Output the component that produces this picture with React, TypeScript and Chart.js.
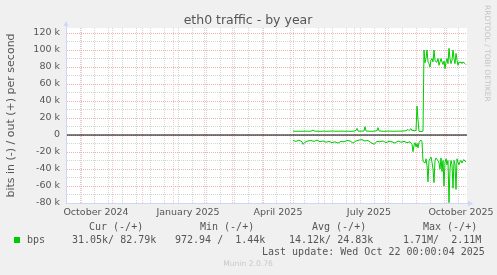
import React, { useEffect, useRef } from 'react';
import { Chart, registerables } from 'chart.js';

Chart.register(...registerables);

// ---------- texts ----------
const TITLE = 'eth0 traffic - by year';
const Y_TITLE = 'bits in (-) / out (+) per second';
const WATERMARK = 'RRDTOOL / TOBI OETIKER';
const FOOTER = 'Munin 2.0.76';
const LEGEND_HEADERS = ['Cur (-/+)', 'Min (-/+)', 'Avg (-/+)', 'Max (-/+)'];
const LEGEND_NAME = 'bps';
const LEGEND_VALUES = ['31.05k/ 82.79k', '972.94 /  1.44k', '14.12k/ 24.83k', '1.71M/  2.11M'];
const LAST_UPDATE = 'Last update: Wed Oct 22 00:00:04 2025';

// ---------- x axis (days since Sep 17 2024, 400 days shown) ----------
const X_MIN = 0;
const X_MAX = 400;
const X_LABELS = ['October 2024', 'January 2025', 'April 2025', 'July 2025', 'October 2025'];
const X_LABEL_DAYS = [29, 121, 211, 302, 394];
const MONTH_START_DAYS = [14, 45, 75, 106, 137, 165, 196, 226, 257, 287, 318, 349, 379];
const FORTNIGHT_DAYS = [13, 27, 41, 55, 69, 83, 97, 111, 125, 139, 153, 167, 181, 195, 209, 223, 237, 251, 265, 279, 293, 307, 321, 335, 349, 363, 377, 391];

// ---------- y axis ----------
const Y_MIN = -80000;
const Y_MAX = 125900;
const Y_TICKS = [-80000, -70000, -60000, -50000, -40000, -30000, -20000, -10000, 0, 10000, 20000, 30000, 40000, 50000, 60000, 70000, 80000, 90000, 100000, 110000, 120000];
const Y_LABELS = ['-80 k', '', '-60 k', '', '-40 k', '', '-20 k', '', '0', '', '20 k', '', '40 k', '', '60 k', '', '80 k', '', '100 k', '', '120 k'];

// ---------- series ----------
const OUT_DAYS = [226, 229, 232, 235, 238, 241, 244, 246, 248, 251, 254, 257, 260, 263, 266, 269, 272, 275, 278, 281, 284, 287, 289, 290, 291, 294, 297, 298, 299, 302, 305, 308, 310, 311, 312, 315, 318, 321, 324, 327, 330, 333, 336, 339, 341, 342, 344, 345, 346, 347, 348, 349, 350, 351, 352, 353, 354, 355, 356, 357, 358, 359, 360, 361, 362, 363, 364, 365, 366, 367, 368, 369, 370, 371, 372, 373, 374, 375, 376, 377, 378, 379, 380, 381, 382, 383, 384, 385, 386, 387, 388, 389, 390, 391, 392, 393, 394, 395, 396, 397, 398, 399];
const OUT_BPS = [4600, 4400, 4500, 4300, 4600, 4400, 4500, 5800, 4400, 4500, 4300, 4600, 4400, 4500, 4700, 4400, 4500, 4600, 4400, 4500, 4300, 4600, 5500, 7800, 4600, 4500, 4800, 9800, 4700, 4500, 4400, 4600, 5200, 8600, 4800, 4500, 4400, 4600, 4500, 4400, 4600, 4500, 4700, 5000, 6500, 5200, 7500, 5000, 6000, 4500, 5500, 5000, 34000, 18000, 4200, 4200, 4200, 4200, 4500, 100000, 85000, 90000, 100000, 86000, 84000, 80000, 88000, 90000, 86000, 100000, 88000, 86000, 86000, 90000, 82000, 86000, 90000, 86000, 83000, 87000, 78000, 86000, 90000, 84000, 102000, 90000, 84000, 88000, 100000, 90000, 84000, 96000, 88000, 82000, 86000, 85000, 86000, 84000, 86000, 85000, 84000, 82790];

const IN_DAYS = [226, 229, 232, 235, 236, 238, 241, 244, 247, 250, 253, 256, 259, 262, 265, 268, 271, 274, 277, 280, 283, 286, 289, 292, 295, 298, 301, 304, 307, 310, 313, 316, 319, 322, 325, 328, 331, 334, 337, 340, 343, 345, 346, 347, 348, 349, 350, 351, 352, 353, 354, 355, 356, 357, 358, 359, 360, 361, 362, 363, 364, 365, 366, 367, 368, 369, 370, 371, 372, 373, 374, 375, 376, 377, 378, 379, 380, 381, 382, 383, 384, 385, 386, 387, 388, 389, 390, 391, 392, 393, 394, 395, 396, 397, 398, 399];
const IN_BPS = [6500, 7500, 6000, 8000, 11000, 8500, 7000, 6500, 7500, 6000, 8000, 7000, 8500, 7500, 9000, 8000, 9500, 7500, 8000, 6500, 7000, 9500, 7000, 6000, 5500, 7000, 6500, 9000, 11000, 7500, 8000, 7000, 9000, 7500, 8000, 9500, 7000, 8500, 7500, 9000, 8000, 11000, 19600, 12000, 9000, 14000, 10000, 15000, 9000, 7000, 6000, 8000, 31000, 32000, 33000, 28000, 36000, 55000, 30000, 28000, 26000, 32000, 40000, 56000, 30000, 27000, 29000, 30000, 33000, 40000, 27000, 43000, 30000, 60000, 32000, 28000, 35000, 30000, 79600, 40000, 30000, 35000, 62700, 30000, 34000, 64000, 28000, 32000, 35000, 31000, 30000, 33000, 30000, 29000, 31000, 31050];

// ---------- styles ----------
const LINE_COLOR = '#00cc00';
const MAJOR_GRID = '#f2b0b0';
const MAJOR_GRID_X = '#f5c4c4';
const MINOR_GRID = '#d4d4d4';
const AXIS_COLOR = '#cfd6f8';
const TEXT_COLOR = '#555555';
const SANS = '"DejaVu Sans", sans-serif';
const MONO = '"DejaVu Sans Mono", monospace';

type XTick = { value: number; kind: string; txt: string };

function buildXTicks(): XTick[] {
  const ticks: XTick[] = [];
  FORTNIGHT_DAYS.forEach((d) => {
    if (!MONTH_START_DAYS.includes(d)) ticks.push({ value: d, kind: 'minor', txt: '' });
  });
  MONTH_START_DAYS.forEach((d) => ticks.push({ value: d, kind: 'month', txt: '' }));
  X_LABEL_DAYS.forEach((d, i) => ticks.push({ value: d + 0.0001, kind: 'label', txt: X_LABELS[i] }));
  ticks.sort((a, b) => a.value - b.value);
  return ticks;
}

const decorPlugin = {
  id: 'muninDecor',
  beforeDraw(chart: any) {
    const { ctx, chartArea: a } = chart;
    ctx.save();
    ctx.fillStyle = '#f0f0f0';
    ctx.fillRect(0, 0, chart.width, chart.height);
    ctx.fillStyle = '#ffffff';
    ctx.fillRect(a.left, a.top, a.right - a.left, a.bottom - a.top);
    ctx.restore();
  },
  afterDraw(chart: any) {
    const { ctx, chartArea: a } = chart;
    ctx.save();
    // axes
    ctx.fillStyle = AXIS_COLOR;
    ctx.fillRect(a.left - 1, a.top - 4, 1, a.bottom - a.top + 5);
    ctx.fillRect(a.left - 1, a.bottom, a.right - a.left + 4, 1);
    ctx.beginPath();
    ctx.moveTo(a.left - 3.5, a.top - 2);
    ctx.lineTo(a.left + 1.5, a.top - 2);
    ctx.lineTo(a.left - 1, a.top - 7);
    ctx.closePath();
    ctx.fill();
    ctx.beginPath();
    ctx.moveTo(a.right + 1, a.bottom - 2.5);
    ctx.lineTo(a.right + 1, a.bottom + 3.5);
    ctx.lineTo(a.right + 6, a.bottom + 0.5);
    ctx.closePath();
    ctx.fill();

    // title
    ctx.fillStyle = TEXT_COLOR;
    ctx.font = `12.5px ${SANS}`;
    ctx.textAlign = 'center';
    ctx.textBaseline = 'alphabetic';
    ctx.fillText(TITLE, 248, 23.5);

    // y title
    ctx.save();
    ctx.translate(11, (a.top + a.bottom) / 2);
    ctx.rotate(-Math.PI / 2);
    ctx.font = `11px ${SANS}`;
    ctx.textAlign = 'center';
    ctx.textBaseline = 'middle';
    ctx.fillText(Y_TITLE, 0, 0);
    ctx.restore();

    // watermark
    ctx.save();
    ctx.translate(487, 5);
    ctx.rotate(Math.PI / 2);
    ctx.font = `7.5px ${SANS}`;
    ctx.fillStyle = '#c4c4c4';
    ctx.textAlign = 'left';
    ctx.textBaseline = 'middle';
    ctx.fillText(WATERMARK, 0, 0);
    ctx.restore();

    // legend
    ctx.font = `10px ${MONO}`;
    ctx.textAlign = 'left';
    ctx.textBaseline = 'middle';
    ctx.fillStyle = TEXT_COLOR;
    const hx = [89, 200, 312, 423];
    LEGEND_HEADERS.forEach((h, i) => ctx.fillText(h, hx[i], 227));
    const vx = [72, 175, 289, 403];
    LEGEND_VALUES.forEach((v, i) => ctx.fillText(v, vx[i], 240));
    ctx.fillText(LEGEND_NAME, 27, 240);
    ctx.fillText(LAST_UPDATE, 262, 252.5);
    ctx.fillStyle = LINE_COLOR;
    ctx.fillRect(14, 237, 6, 6);

    // footer
    ctx.font = `7.6px ${SANS}`;
    ctx.fillStyle = '#c8c8c8';
    ctx.textAlign = 'center';
    ctx.fillText(FOOTER, 248, 264);
    ctx.restore();
  },
};

export default function App() {
  const canvasRef = useRef<HTMLCanvasElement | null>(null);

  useEffect(() => {
    const canvas = canvasRef.current;
    if (!canvas) return;
    const xTicks = buildXTicks();
    const chart = new Chart(canvas, {
      type: 'line',
      data: {
        datasets: [
          {
            data: [{ x: X_MIN, y: 0 }, { x: X_MAX, y: 0 }],
            borderColor: '#000000',
            borderWidth: 1,
            pointRadius: 0,
          },
          {
            data: OUT_DAYS.map((d, i) => ({ x: d, y: OUT_BPS[i] })),
            borderColor: LINE_COLOR,
            borderWidth: 1,
            pointRadius: 0,
            tension: 0,
          },
          {
            data: IN_DAYS.map((d, i) => ({ x: d, y: -IN_BPS[i] })),
            borderColor: LINE_COLOR,
            borderWidth: 1,
            pointRadius: 0,
            tension: 0,
          },
        ],
      },
      options: {
        animation: false,
        responsive: false,
        devicePixelRatio: 1,
        parsing: false as any,
        normalized: true,
        layout: { padding: { left: 0, top: 28, right: 30, bottom: 0 } },
        plugins: { legend: { display: false }, tooltip: { enabled: false }, title: { display: false } },
        scales: {
          x: {
            type: 'linear',
            min: X_MIN,
            max: X_MAX,
            afterBuildTicks: (s: any) => {
              s.ticks = xTicks.map((t) => ({ ...t }));
            },
            afterFit: (s: any) => {
              s.height = 72;
              s.paddingLeft = 0;
              s.paddingRight = 0;
            },
            grid: {
              drawTicks: false,
              lineWidth: 1,
              color: (c: any) => {
                const k = c.tick && c.tick.kind;
                if (k === 'month') return MAJOR_GRID_X;
                if (k === 'minor') return MINOR_GRID;
                return 'rgba(0,0,0,0)';
              },
            },
            border: { display: false, dash: [1, 1] },
            ticks: {
              autoSkip: false,
              maxRotation: 0,
              minRotation: 0,
              padding: 4,
              color: TEXT_COLOR,
              font: { family: SANS, size: 9.5 },
              callback: (_v: any, i: number, ticks: any[]) => ticks[i].txt || '',
            },
          },
          y: {
            type: 'linear',
            min: Y_MIN,
            max: Y_MAX,
            afterBuildTicks: (s: any) => {
              s.ticks = Y_TICKS.map((v, i) => ({ value: v, txt: Y_LABELS[i] }));
            },
            afterFit: (s: any) => {
              s.width = 67;
              s.paddingTop = 0;
              s.paddingBottom = 0;
            },
            grid: {
              drawTicks: false,
              lineWidth: 1,
              color: (c: any) => {
                const v = c.tick ? c.tick.value : 1;
                return v % 20000 === 0 ? MAJOR_GRID : MINOR_GRID;
              },
            },
            border: { display: false, dash: [1, 1] },
            ticks: {
              autoSkip: false,
              padding: 7,
              color: TEXT_COLOR,
              font: { family: SANS, size: 9.5 },
              callback: (_v: any, i: number, ticks: any[]) => ticks[i].txt || '',
            },
          },
        },
      },
      plugins: [decorPlugin],
    } as any);
    return () => chart.destroy();
  }, []);

  return (
    <div style={{ position: 'fixed', left: 0, top: 0, width: 497, height: 275, background: '#f0f0f0' }}>
      <canvas ref={canvasRef} width={497} height={275} style={{ display: 'block', width: 497, height: 275 }} />
    </div>
  );
}
